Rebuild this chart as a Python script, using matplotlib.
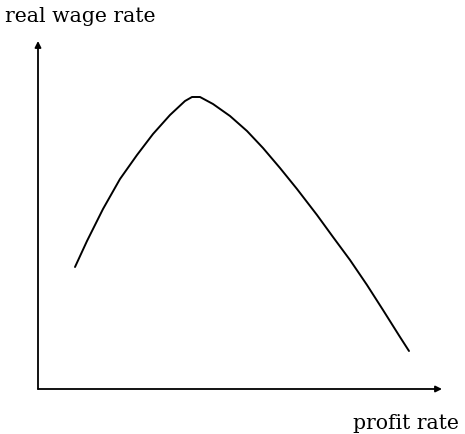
import numpy as np
import matplotlib
matplotlib.use("Agg")
from matplotlib import pyplot as plt

## curve (arbitrary units)
profit = [37, 49, 65, 82, 99, 115, 132, 147, 154, 162, 175, 192, 209, 225, 242, 259, 279, 295, 312, 329, 345, 362, 371]
wage = [122, 148, 180, 210, 234, 255, 274, 288, 292, 292, 285, 273, 258, 241, 221, 200, 174, 152, 129, 104, 79, 52, 38]

x_label = "profit rate"
y_label = "real wage rate"

fig = plt.figure(figsize=(4.65, 4.35), dpi=100)
ax = fig.add_axes([38/465, 45/435, 404/465, 348/435])
ax.set_xlim(0, 404)
ax.set_ylim(0, 348)
ax.axis("off")

ax.plot(profit, wage, color="black", lw=1.4, solid_capstyle="round", solid_joinstyle="round")

## axes with arrow heads
arrow = dict(arrowstyle="-|>", color="black", lw=1.3, mutation_scale=9, shrinkA=0, shrinkB=0)
ax.annotate("", xy=(0, 348), xytext=(0, 0), arrowprops=arrow, annotation_clip=False)
ax.annotate("", xy=(404, 0), xytext=(0, 0), arrowprops=arrow, annotation_clip=False)

fig.text(5/465, 1 - 16/435, y_label, family="DejaVu Serif", fontsize=14.7, va="center", ha="left")
fig.text(459/465, 1 - 424/435, x_label, family="DejaVu Serif", fontsize=14.7, va="center", ha="right")

fig.savefig("out.png", dpi=100)
